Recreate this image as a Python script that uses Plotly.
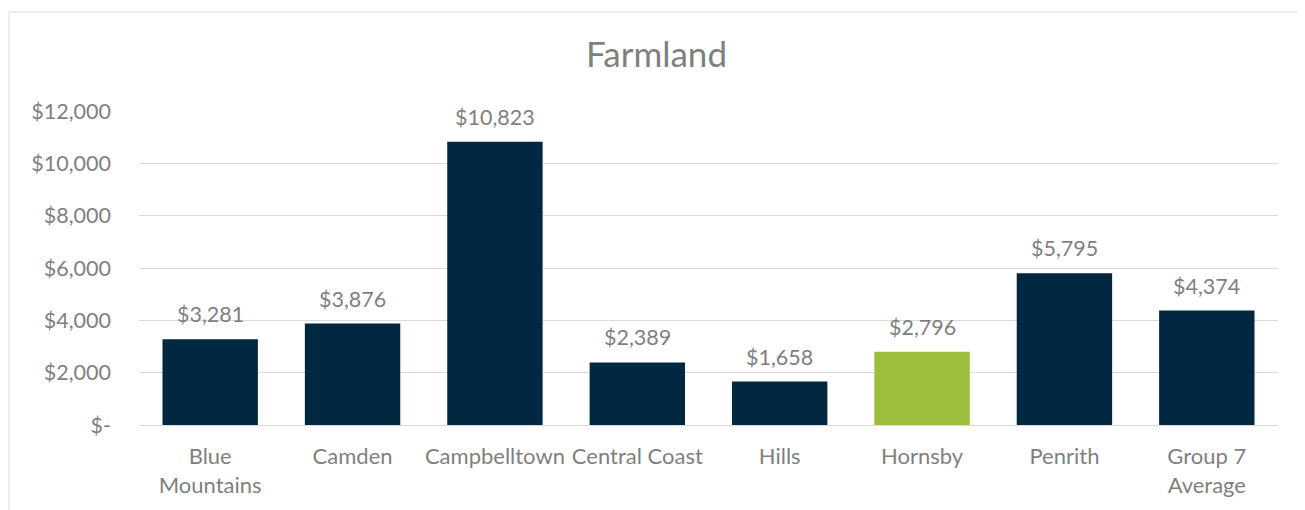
import plotly.graph_objects as go

# Farmland cost per council
councils = ["Blue<br>Mountains", "Camden", "Campbelltown", "Central Coast",
            "Hills", "Hornsby", "Penrith", "Group 7<br>Average"]
farmland = [3281, 3876, 10823, 2389, 1658, 2796, 5795, 4374]
highlight = "Hornsby"

tick_vals = [0, 2000, 4000, 6000, 8000, 10000, 12000]
tick_text = ["$-", "$2,000", "$4,000", "$6,000", "$8,000", "$10,000", "$12,000"]

navy = "#012840"
green = "#9DBD3C"
grey_text = "#7F7F7F"

bar_colors = [green if c == highlight else navy for c in councils]
labels = [f"${v:,}" for v in farmland]

fig = go.Figure()

fig.add_trace(go.Bar(
    x=councils,
    y=farmland,
    marker=dict(color=bar_colors, line=dict(width=0)),
    hoverinfo="x+y",
))

# value labels sit a little above each bar, like the Excel data labels
for c, v, lab in zip(councils, farmland, labels):
    fig.add_annotation(x=c, y=v, text=lab, showarrow=False,
                       yanchor="bottom", yshift=10,
                       font=dict(size=21.5, color=grey_text))

fig.update_layout(
    width=1297,
    height=502,
    title=dict(text="Farmland", x=0.5, xref="container", xanchor="center",
               y=0.906, yref="container", yanchor="middle",
               font=dict(size=35, color=grey_text)),
    font=dict(family="Lato, 'Open Sans', sans-serif", color=grey_text, size=21.5),
    paper_bgcolor="white",
    plot_bgcolor="white",
    bargap=0.33,
    showlegend=False,
    margin=dict(l=131, r=27, t=103, b=85),
    xaxis=dict(showgrid=False, showline=False, ticks="", ticklabelstandoff=16,
               tickfont=dict(size=22, color=grey_text)),
    yaxis=dict(range=[0, 12000], tickvals=tick_vals, ticktext=tick_text,
               showgrid=True, gridcolor="#D9D9D9", gridwidth=1,
               zeroline=True, zerolinecolor="#D9D9D9", zerolinewidth=1,
               showline=False, ticks="", ticklabelstandoff=27,
               tickfont=dict(size=21.5, color=grey_text)),
)

# chart frame (top and left edges visible in the reference)
fig.add_shape(type="rect", xref="paper", yref="paper",
              x0=-(130 / 1139), x1=1.1, y0=-0.4, y1=1 + 99 / 314,
              line=dict(color="#D9D9D9", width=1), fillcolor="rgba(0,0,0,0)",
              layer="below")

fig.write_html("out.html")
